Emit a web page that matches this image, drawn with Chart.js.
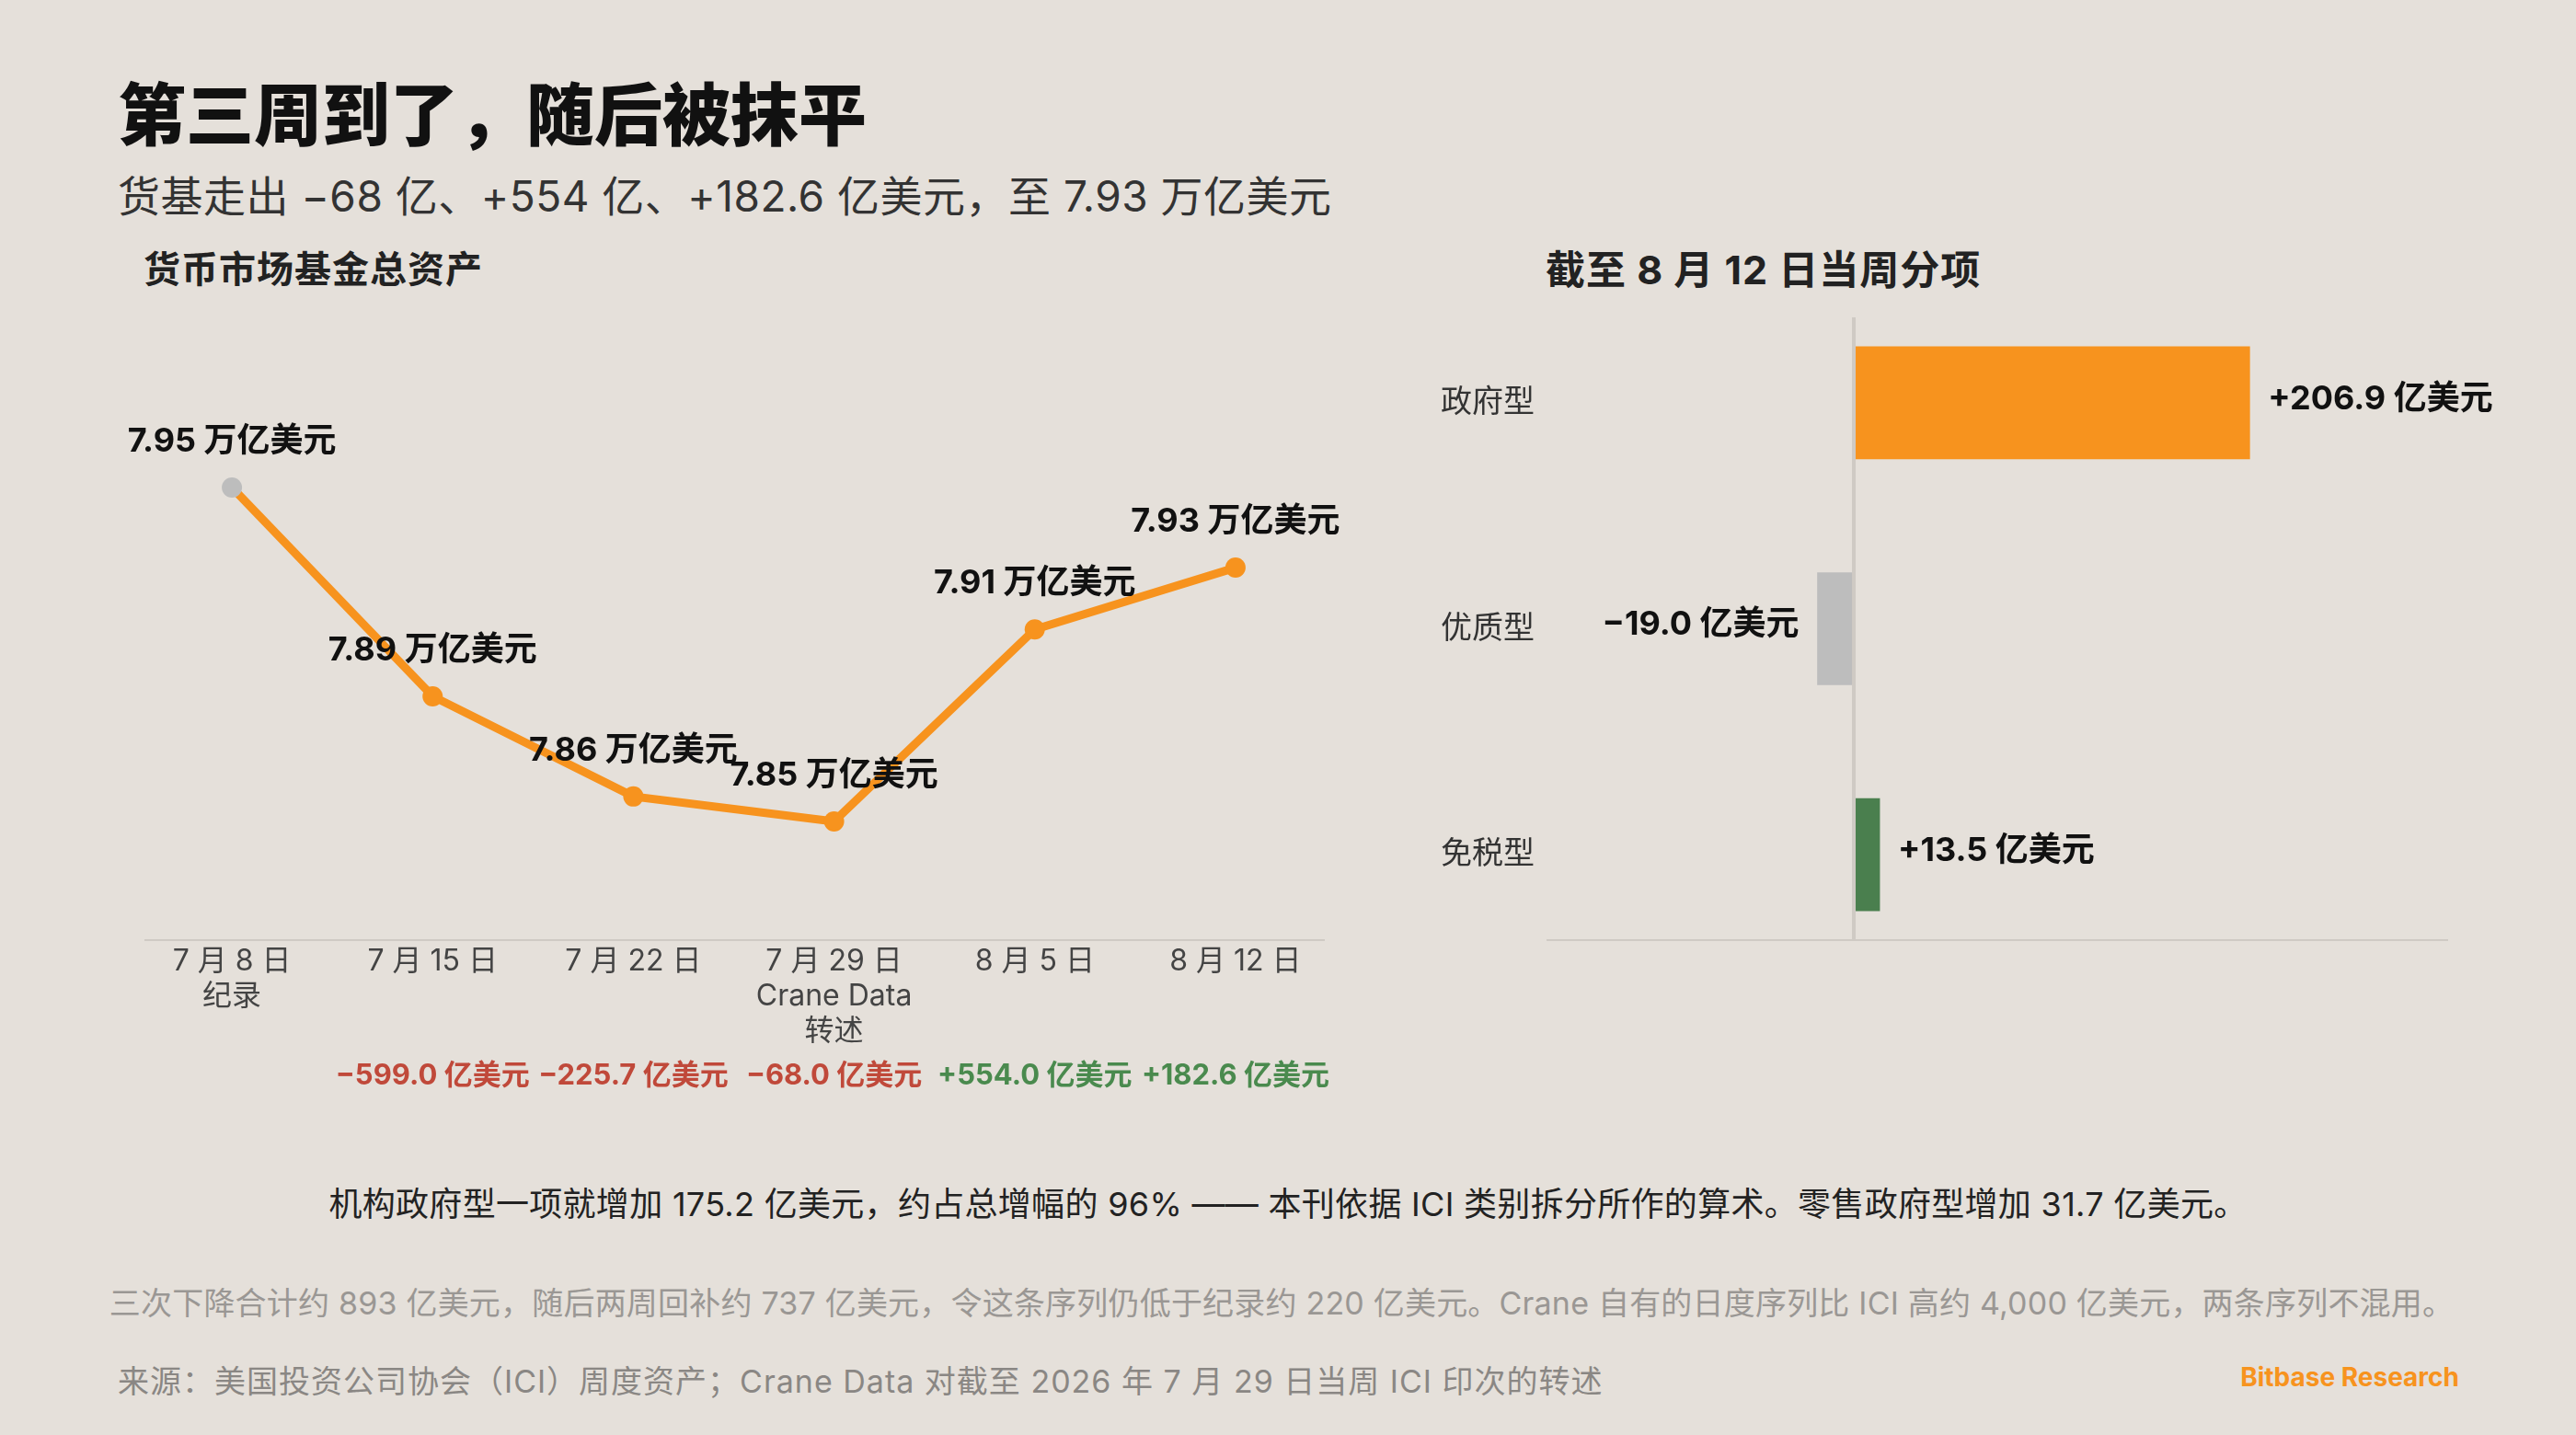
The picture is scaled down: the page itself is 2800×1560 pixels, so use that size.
<!DOCTYPE html>
<html><head><meta charset="utf-8">
<script src="https://cdn.jsdelivr.net/npm/chart.js@4.4.1/dist/chart.umd.min.js"></script>
<style>
body{margin:0;width:2800px;height:1560px;background:#E5E0DA;font-family:Inter,"Noto Sans CJK SC","Noto Sans",sans-serif;position:relative;overflow:hidden}
.t{position:absolute;white-space:nowrap}
canvas{position:absolute;left:0;top:0}
</style></head><body>
<div class="t" style="left:128px;top:66px;font-size:74px;font-weight:900;color:#111">第三周到了，随后被抹平</div>
<div class="t" style="left:128px;top:177px;font-size:46px;letter-spacing:0.5px;color:#333">货基走出 −68 亿、+554 亿、+182.6 亿美元，至 7.93 万亿美元</div>
<div class="t" style="left:156px;top:261px;font-size:40px;font-weight:700;letter-spacing:1px;color:#222">货币市场基金总资产</div>
<div class="t" style="left:1680px;top:259px;font-size:43px;font-weight:700;letter-spacing:1px;color:#222">截至 8 月 12 日当周分项</div>
<div class="t" style="left:0;width:2800px;text-align:center;top:1280px;font-size:36px;letter-spacing:0.3px;color:#222">机构政府型一项就增加 175.2 亿美元，约占总增幅的 96% —— 本刊依据 ICI 类别拆分所作的算术。零售政府型增加 31.7 亿美元。</div>
<div class="t" style="left:0;width:2786px;text-align:center;top:1390px;font-size:34px;letter-spacing:0.2px;color:#9a9794">三次下降合计约 893 亿美元，随后两周回补约 737 亿美元，令这条序列仍低于纪录约 220 亿美元。Crane 自有的日度序列比 ICI 高约 4,000 亿美元，两条序列不混用。</div>
<div class="t" style="left:128px;top:1475px;font-size:34px;letter-spacing:1px;color:#8a8784">来源：美国投资公司协会（ICI）周度资产；Crane Data 对截至 2026 年 7 月 29 日当周 ICI 印次的转述</div>
<div class="t" style="right:127px;top:1480px;font-size:28px;font-weight:700;color:#F7931E">Bitbase Research</div>
<canvas id="c1" width="2800" height="1560"></canvas>
<canvas id="c2" width="2800" height="1560"></canvas>
<script>
const weeks = [['7 月 8 日','纪录'],['7 月 15 日'],['7 月 22 日'],['7 月 29 日','Crane Data','转述'],['8 月 5 日'],['8 月 12 日']];
const assets = [7.95, 7.8875, 7.8575, 7.85, 7.9075, 7.926];
const assetLabels = ['7.95 万亿美元','7.89 万亿美元','7.86 万亿美元','7.85 万亿美元','7.91 万亿美元','7.93 万亿美元'];
const changes = [null, -599.0, -225.7, -68.0, 554.0, 182.6];
const types = ['政府型','优质型','免税型'];
const flows = [206.9, -19.0, 13.5];

const ORANGE = '#F7931E', GREY = '#BDBDBD', GREEN = '#4A7F4E';
const FONT = 'Inter,"Noto Sans CJK SC","Noto Sans",sans-serif';
const fmt = v => (v > 0 ? '+' : '−') + Math.abs(v).toFixed(1) + ' 亿美元';

const lineDeco = {
    id: 'lineDeco',
    afterDatasetsDraw(chart) {
        const c = chart.ctx, x = chart.scales.x, meta = chart.getDatasetMeta(0);
        c.save();
        c.strokeStyle = '#cfcac4'; c.lineWidth = 2;
        c.beginPath(); c.moveTo(157, 1022); c.lineTo(1440, 1022); c.stroke();
        c.textAlign = 'center'; c.textBaseline = 'middle';
        meta.data.forEach((p, i) => {
            c.font = 'bold 36px ' + FONT; c.fillStyle = '#111';
            c.fillText(assetLabels[i], p.x, p.y - 50);
            c.font = '32px ' + FONT; c.fillStyle = '#444';
            weeks[i].forEach((s, j) => c.fillText(s, x.getPixelForValue(i), 1045 + j * 38));
            if (changes[i] !== null) {
                c.font = 'bold 31px ' + FONT;
                c.fillStyle = changes[i] < 0 ? '#C0493A' : '#4A8A4E';
                c.fillText(fmt(changes[i]), x.getPixelForValue(i), 1170);
            }
        });
        c.restore();
    }
};

new Chart(document.getElementById('c1'), {
    type: 'line',
    data: { labels: weeks.map(w => w[0]), datasets: [{
        data: assets, borderColor: ORANGE, borderWidth: 9, tension: 0,
        pointRadius: 11, pointBackgroundColor: assets.map((v, i) => i === 0 ? GREY : ORANGE),
        pointBorderWidth: 0
    }]},
    options: {
        responsive: false, animation: false,
        layout: { padding: { left: 143, right: 1348, top: 421, bottom: 538 } },
        plugins: { legend: { display: false }, tooltip: { enabled: false } },
        scales: {
            x: { offset: true, display: false },
            y: { min: 7.8145, max: 7.98, display: false }
        }
    },
    plugins: [lineDeco]
});

const barDeco = {
    id: 'barDeco',
    afterDatasetsDraw(chart) {
        const c = chart.ctx, x = chart.scales.x, y = chart.scales.y;
        const z = x.getPixelForValue(0);
        c.save();
        c.strokeStyle = '#cfcac4'; c.lineWidth = 2;
        c.beginPath(); c.moveTo(1681, 1022); c.lineTo(2661, 1022); c.stroke();
        c.lineWidth = 4;
        c.beginPath(); c.moveTo(z, 345); c.lineTo(z, 1022); c.stroke();
        c.textBaseline = 'middle';
        types.forEach((t, i) => {
            const yy = y.getPixelForValue(i);
            c.font = '34px ' + FONT; c.fillStyle = '#333'; c.textAlign = 'right';
            c.fillText(t, 1668, yy);
            c.font = 'bold 36px ' + FONT; c.fillStyle = '#111';
            const end = x.getPixelForValue(flows[i]);
            c.textAlign = flows[i] < 0 ? 'right' : 'left';
            c.fillText(fmt(flows[i]), end + (flows[i] < 0 ? -20 : 20), yy - 4);
        });
        c.restore();
    }
};

new Chart(document.getElementById('c2'), {
    type: 'bar',
    data: { labels: types, datasets: [{
        data: flows, backgroundColor: [ORANGE, GREY, GREEN], barThickness: 122, borderWidth: 0
    }]},
    options: {
        indexAxis: 'y', responsive: false, animation: false,
        layout: { padding: { left: 1681, right: 139, top: 315, bottom: 508 } },
        plugins: { legend: { display: false }, tooltip: { enabled: false } },
        scales: {
            x: { min: -160.6, max: 310.6, display: false },
            y: { display: false }
        }
    },
    plugins: [barDeco]
});
</script>
</body></html>
